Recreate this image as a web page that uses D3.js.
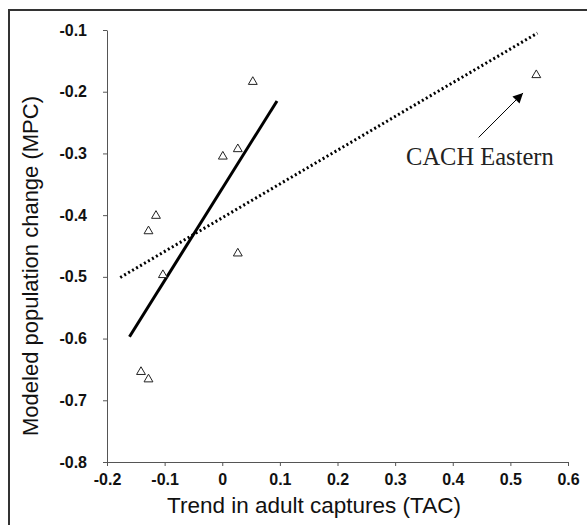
<!DOCTYPE html>
<html>
<head>
<meta charset="utf-8">
<script src="https://cdn.jsdelivr.net/npm/d3@7"></script>
<style>
  body { margin: 0; background: #fff; }
  svg { display: block; }
</style>
</head>
<body>
<div id="chart"></div>
<script>
// values
var tac = [0.053, 0.001, 0.027, -0.115, -0.128, 0.027, -0.103, -0.141, -0.128, 0.545];
var mpc = [-0.184, -0.305, -0.293, -0.401, -0.426, -0.462, -0.497, -0.654, -0.666, -0.173];

// fitted lines (end points as drawn)
var fitSolid = [[-0.161, -0.597], [0.095, -0.215]];
var fitDotted = [[-0.177, -0.501], [0.547, -0.105]];

var xTicks = [-0.2, -0.1, 0, 0.1, 0.2, 0.3, 0.4, 0.5, 0.6];
var yTicks = [-0.1, -0.2, -0.3, -0.4, -0.5, -0.6, -0.7, -0.8];

var annotation = { label: "CACH Eastern", from: [0.445, -0.274], to: [0.522, -0.202], at: [0.319, -0.319] };

var width = 587, height = 525;

var svg = d3.select("#chart").append("svg")
    .attr("width", width)
    .attr("height", height);

// outer frame, runs off the right and bottom edges
svg.append("rect")
    .attr("x", 9).attr("y", 10)
    .attr("width", 620).attr("height", 560)
    .attr("fill", "none")
    .attr("stroke", "#333")
    .attr("stroke-width", 2);

var x = d3.scaleLinear().domain([-0.2, 0.6]).range([107, 568]);
var y = d3.scaleLinear().domain([-0.8, -0.1]).range([462, 30]);

// plain hyphen for negatives, like the original
var fmt = function(d) { return d === 0 ? "0" : d.toFixed(1); };

// axes
var xAxis = svg.append("g")
    .attr("transform", "translate(0," + y(-0.8) + ")")
    .call(d3.axisBottom(x).tickValues(xTicks).tickFormat(fmt).tickSizeInner(4).tickSizeOuter(0).tickPadding(8));
var yAxis = svg.append("g")
    .attr("transform", "translate(" + x(-0.2) + ",0)")
    .call(d3.axisLeft(y).tickValues(yTicks).tickFormat(fmt).tickSizeInner(4).tickSizeOuter(0).tickPadding(16));

[xAxis, yAxis].forEach(function(a) {
    a.select(".domain").attr("stroke", "#555");
    a.selectAll(".tick line").attr("stroke", "#555");
    a.selectAll("text")
        .attr("fill", "#111")
        .style("font-family", "Arial, 'Liberation Sans', sans-serif")
        .style("font-size", "16px")
        .style("font-weight", "bold");
});

// axis titles
svg.append("text")
    .attr("x", 314).attr("y", 513)
    .attr("text-anchor", "middle")
    .style("font-family", "Arial, 'Liberation Sans', sans-serif")
    .style("font-size", "22.5px")
    .attr("fill", "#111")
    .text("Trend in adult captures (TAC)");

svg.append("text")
    .attr("transform", "translate(38,266) rotate(-90)")
    .attr("text-anchor", "middle")
    .style("font-family", "Arial, 'Liberation Sans', sans-serif")
    .style("font-size", "22px")
    .attr("fill", "#111")
    .text("Modeled population change (MPC)");

// fit lines
var line = d3.line().x(function(d) { return x(d[0]); }).y(function(d) { return y(d[1]); });

svg.append("path")
    .datum(fitDotted)
    .attr("d", line)
    .attr("fill", "none")
    .attr("stroke", "#000")
    .attr("stroke-width", 3)
    .attr("stroke-dasharray", "2,2.6");

svg.append("path")
    .datum(fitSolid)
    .attr("d", line)
    .attr("fill", "none")
    .attr("stroke", "#000")
    .attr("stroke-width", 3);

// points
var points = tac.map(function(v, i) { return [v, mpc[i]]; });
svg.append("g")
    .selectAll("path")
    .data(points)
    .enter()
    .append("path")
    .attr("transform", function(d) { return "translate(" + x(d[0]) + "," + y(d[1]) + ")"; })
    .attr("d", d3.symbol().type(d3.symbolTriangle).size(34))
    .attr("fill", "#fff")
    .attr("stroke", "#222")
    .attr("stroke-width", 1);

// annotation arrow
svg.append("defs").append("marker")
    .attr("id", "head")
    .attr("viewBox", "0 0 10 10")
    .attr("refX", 10).attr("refY", 5)
    .attr("markerWidth", 12).attr("markerHeight", 10)
    .attr("markerUnits", "userSpaceOnUse")
    .attr("orient", "auto")
    .append("path")
    .attr("d", "M0,0L10,5L0,10z")
    .attr("fill", "#000");

svg.append("line")
    .attr("x1", x(annotation.from[0])).attr("y1", y(annotation.from[1]))
    .attr("x2", x(annotation.to[0])).attr("y2", y(annotation.to[1]))
    .attr("stroke", "#000")
    .attr("stroke-width", 1)
    .attr("marker-end", "url(#head)");

svg.append("text")
    .attr("x", x(annotation.at[0])).attr("y", y(annotation.at[1]))
    .style("font-family", "'Liberation Serif', 'Times New Roman', serif")
    .style("font-size", "24.5px")
    .attr("fill", "#222")
    .text(annotation.label);
</script>
</body>
</html>
